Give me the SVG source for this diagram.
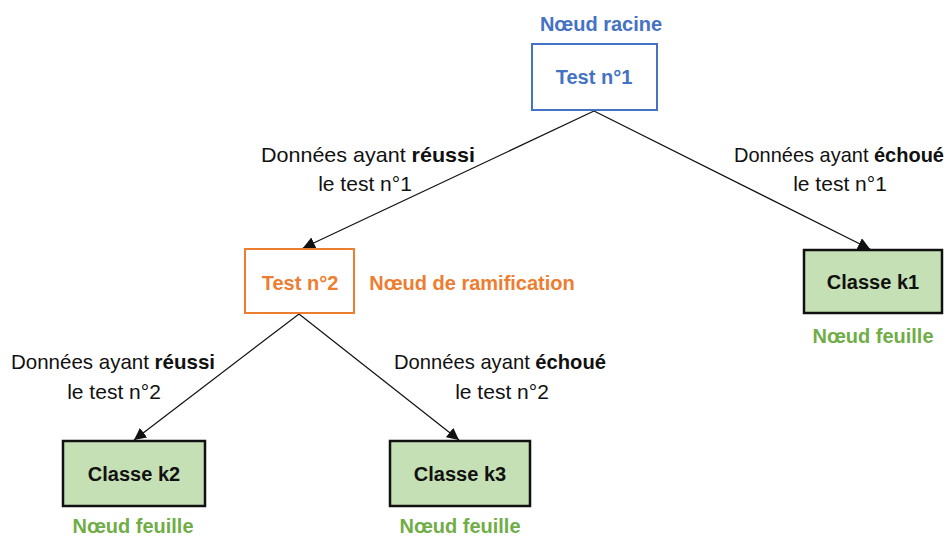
<svg xmlns="http://www.w3.org/2000/svg" width="948" height="536" viewBox="0 0 948 536">
<style>
text{font-family:"Liberation Sans",Arial,sans-serif;text-anchor:middle}
.b{font-weight:bold;font-size:20px}
.lbl{font-size:21px;fill:#111}
.blue{fill:#4472C4}
.orange{fill:#ED7D31}
.green{fill:#70AD47}
.leaf{fill:#C5E0B4;stroke:#111;stroke-width:2.5}
.edge{stroke:#111;stroke-width:1.2;fill:none;marker-end:url(#ah)}
</style>
<defs>
<marker id="ah" viewBox="0 0 10 10" refX="10" refY="5" markerWidth="12" markerHeight="12" markerUnits="userSpaceOnUse" orient="auto">
<path d="M0,0 L10,5 L0,10 z" fill="#111"/>
</marker>
</defs>
<rect width="948" height="536" fill="#fff"/>
<g id="connectors">
<line class="edge" x1="594" y1="111" x2="303" y2="248"/>
<line class="edge" x1="594" y1="111" x2="870" y2="249"/>
<line class="edge" x1="299" y1="314" x2="134" y2="440"/>
<line class="edge" x1="299" y1="314" x2="459" y2="440"/>
</g>
<g id="edge-labels">
<text class="lbl" x="368" y="162" textLength="214" lengthAdjust="spacingAndGlyphs">Données ayant <tspan font-weight="bold">réussi</tspan></text>
<text class="lbl" x="365" y="191">le test n°1</text>
<text class="lbl" x="839" y="162" textLength="210" lengthAdjust="spacingAndGlyphs">Données ayant <tspan font-weight="bold">échoué</tspan></text>
<text class="lbl" x="840" y="191">le test n°1</text>
<text class="lbl" x="113" y="369" textLength="204" lengthAdjust="spacingAndGlyphs">Données ayant <tspan font-weight="bold">réussi</tspan></text>
<text class="lbl" x="114" y="399">le test n°2</text>
<text class="lbl" x="500" y="369" textLength="212" lengthAdjust="spacingAndGlyphs">Données ayant <tspan font-weight="bold">échoué</tspan></text>
<text class="lbl" x="502" y="399">le test n°2</text>
</g>
<g id="node-test1">
<text class="b blue" x="601" y="31">Nœud racine</text>
<rect x="532" y="44" width="125" height="66" fill="#fff" stroke="#4472C4" stroke-width="2"/>
<text class="b blue" x="594" y="84">Test n°1</text>
</g>
<g id="node-test2">
<rect x="245" y="249" width="109" height="64" fill="#fff" stroke="#ED7D31" stroke-width="2"/>
<text class="b orange" x="300" y="290">Test n°2</text>
<text class="b orange" x="472" y="290">Nœud de ramification</text>
</g>
<g id="node-k1">
<rect class="leaf" x="804" y="250" width="138" height="63"/>
<text class="b" x="873" y="289" fill="#111">Classe k1</text>
<text class="b green" x="873" y="343">Nœud feuille</text>
</g>
<g id="node-k2">
<rect class="leaf" x="63" y="441" width="142" height="65"/>
<text class="b" x="134" y="481" fill="#111">Classe k2</text>
<text class="b green" x="133" y="533">Nœud feuille</text>
</g>
<g id="node-k3">
<rect class="leaf" x="390" y="441" width="140" height="65"/>
<text class="b" x="460" y="481" fill="#111">Classe k3</text>
<text class="b green" x="460" y="533">Nœud feuille</text>
</g>
</svg>
